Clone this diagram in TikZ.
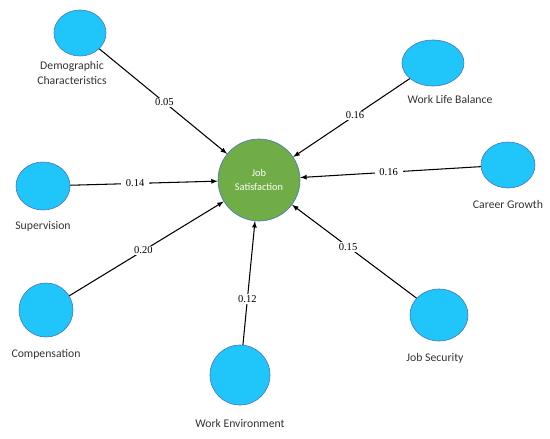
\documentclass[tikz,border=0pt]{standalone}
\usepackage{fontspec}
\setmainfont{Carlito}
\newfontfamily\numfont{Liberation Serif}
\usetikzlibrary{shapes.geometric}
\definecolor{factorblue}{RGB}{32,198,250}
\definecolor{rimblue}{RGB}{68,114,196}
\definecolor{jsgreen}{RGB}{112,173,71}

\begin{document}
\begin{tikzpicture}[x=0.03cm,y=-0.03cm,
    factor/.style={ellipse,draw=rimblue,fill=factorblue,line width=0.5pt,inner sep=0pt},
    target/.style={circle,draw=rimblue,fill=jsgreen,line width=0.5pt,inner sep=0pt,
      minimum size=2.46cm,text=white,align=center,font=\fontsize{8.8}{11.5}\selectfont},
    factorname/.style={align=center,font=\fontsize{10}{12.5}\selectfont,text=black!80},
    num/.style={fill=white,inner xsep=4pt,inner ysep=1pt,font=\numfont\fontsize{9}{10}\selectfont},
    link/.style={-latex,line width=0.9pt}]
  \useasboundingbox (0,0) rectangle (550,438);
  % dependent variable
  \node[target] (js) at (259,180) {Job\\Satisfaction};
  % factors
  \node[factor,minimum width=1.56cm,minimum height=1.38cm] (demo) at (80,33) {};
  \node[factor,minimum width=1.86cm,minimum height=1.38cm] (wlb) at (433,63) {};
  \node[factor,minimum width=1.62cm,minimum height=1.38cm] (career) at (508,165) {};
  \node[factor,minimum width=1.62cm,minimum height=1.44cm] (superv) at (43,186) {};
  \node[factor,minimum width=1.62cm,minimum height=1.62cm] (comp) at (46,310) {};
  \node[factor,minimum width=1.8cm,minimum height=1.8cm] (env) at (240,375) {};
  \node[factor,minimum width=1.74cm,minimum height=1.56cm] (jobsec) at (439,315) {};
  % factor names
  \node[factorname] (demo-t) at (72,73) {Demographic\\Characteristics};
  \node[factorname] (wlb-t) at (450,99) {Work Life Balance};
  \node[factorname] (career-t) at (508,204) {Career Growth};
  \node[factorname] (superv-t) at (43,226) {Supervision};
  \node[factorname] (comp-t) at (46,354) {Compensation};
  \node[factorname] (env-t) at (240,423) {Work Environment};
  \node[factorname] (jobsec-t) at (435,358) {Job Security};
  % paths with coefficients
  \draw[link] (demo) -- node[num,pos=0.51] {0.05} (js);
  \draw[link] (wlb) -- node[num,pos=0.47] {0.16} (js);
  \draw[link] (career) -- node[num,pos=0.51] {0.16} (js);
  \draw[link] (superv) -- node[num,pos=0.44] {0.14} (js);
  \draw[link] (comp) -- node[num,pos=0.48] {0.20} (js);
  \draw[link] (env) -- node[num,pos=0.37] {0.12} (js);
  \draw[link] (jobsec) -- node[num,pos=0.55] {0.15} (js);
\end{tikzpicture}
\end{document}
